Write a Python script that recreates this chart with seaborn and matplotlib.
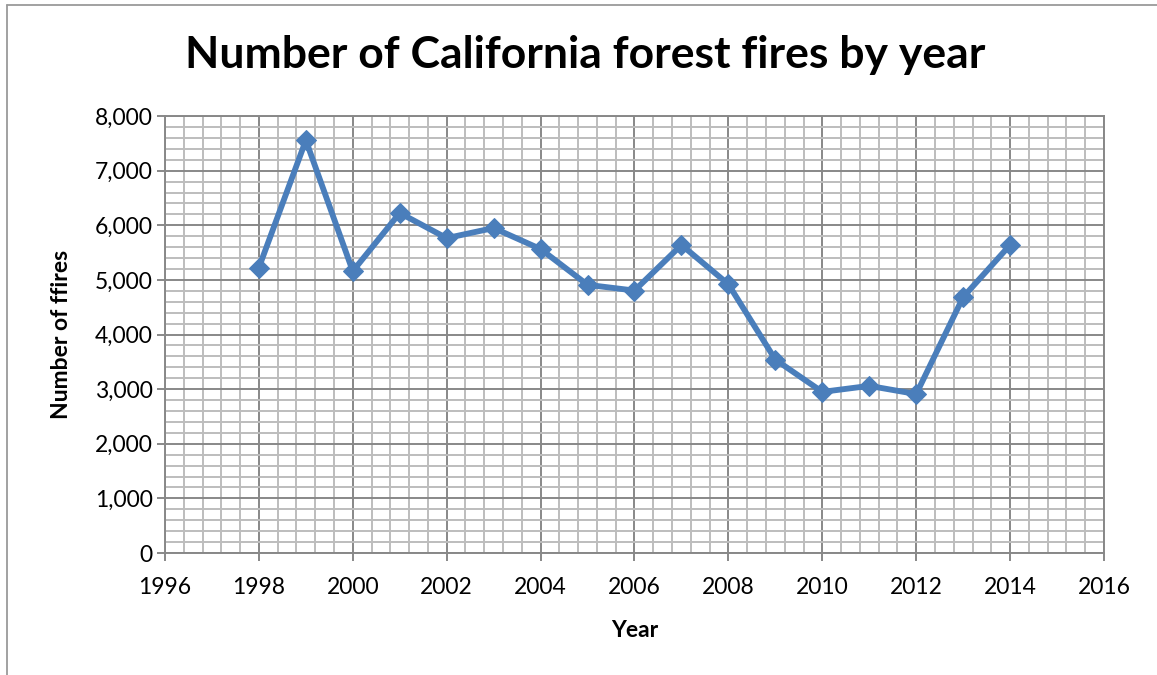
import matplotlib
matplotlib.use("Agg")
import matplotlib.pyplot as plt
from matplotlib.lines import Line2D
from matplotlib.ticker import MultipleLocator, FuncFormatter
import seaborn as sns
import pandas as pd

# California forest fires per year
years = [1998, 1999, 2000, 2001, 2002, 2003, 2004, 2005, 2006,
         2007, 2008, 2009, 2010, 2011, 2012, 2013, 2014]
fires = [5225, 7555, 5160, 6225, 5765, 5950, 5565, 4910, 4805,
         5640, 4920, 3540, 2950, 3060, 2910, 4685, 5640]

title = "Number of California forest fires by year"
x_label = "Year"
y_label = "Number of ffires"

sns.set_theme(style="white")
plt.rcParams["font.family"] = ["Lato", "DejaVu Sans"]
plt.rcParams["text.color"] = "black"
plt.rcParams["axes.labelcolor"] = "black"

df = pd.DataFrame({"Year": years, "Fires": fires})

fig = plt.figure(figsize=(11.57, 6.75), dpi=100)
ax = fig.add_axes([0.1426, 0.1807, 0.8116, 0.6474])

sns.lineplot(data=df, x="Year", y="Fires", ax=ax, color="#4a7ebb",
             linewidth=4.2, marker="D", markersize=10.5,
             markeredgecolor="#4a7ebb", markerfacecolor="#4a7ebb")

ax.set_xlim(1996, 2016)
ax.set_ylim(0, 8000)
ax.xaxis.set_major_locator(MultipleLocator(2))
ax.xaxis.set_minor_locator(MultipleLocator(0.4))
ax.yaxis.set_major_locator(MultipleLocator(1000))
ax.yaxis.set_minor_locator(MultipleLocator(200))
ax.yaxis.set_major_formatter(FuncFormatter(lambda v, p: f"{int(v):,}"))

ax.grid(which="minor", color="#bdbdbd", linewidth=1.4)
ax.grid(which="major", color="#888888", linewidth=1.4)
ax.set_axisbelow(True)

for s in ax.spines.values():
    s.set_color("#888888")
    s.set_linewidth(1.4)

ax.tick_params(which="major", direction="out", length=6, width=1.4,
               color="#888888", labelsize=16.5, labelcolor="black")
ax.tick_params(which="minor", length=0)
ax.tick_params(axis="x", bottom=True, pad=11)
ax.tick_params(axis="y", left=True, pad=3)

ax.set_xlabel(x_label, fontsize=16.5, fontweight="bold", labelpad=16)
ax.set_ylabel(y_label, fontsize=16.5, fontweight="bold", labelpad=16)

fig.text(0.506, 0.918, title, ha="center", va="center",
         fontsize=32, fontweight="bold", color="black")

# chart frame on the left and top edges
fig.add_artist(Line2D([7 / 1157, 7 / 1157], [0, 1 - 5 / 675],
                      transform=fig.transFigure, color="#9a9a9a", linewidth=1.3))
fig.add_artist(Line2D([7 / 1157, 1], [1 - 5 / 675, 1 - 5 / 675],
                      transform=fig.transFigure, color="#9a9a9a", linewidth=1.3))

fig.savefig("out.png", dpi=100)
